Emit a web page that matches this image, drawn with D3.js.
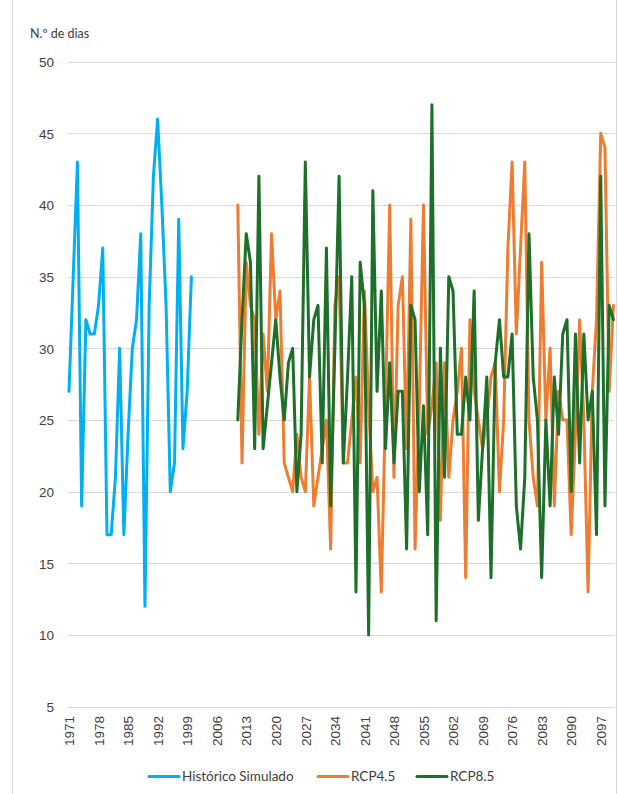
<!DOCTYPE html>
<html>
<head>
<meta charset="utf-8">
<script src="https://cdn.jsdelivr.net/npm/d3@7"></script>
<style>
  html, body { margin: 0; padding: 0; background: #fff; }
  svg { display: block; }
</style>
</head>
<body>
<svg id="chart" width="619" height="794"></svg>
<script>
// ---- data ----
const histStart = 1971;
const histValues = [27,35,43,19,32,31,31,33,37,17,17,21,30,17,24,30,32,38,12,33,42,46,40,33,20,22,39,23,27,35];
const rcpStart = 2011;
const rcp45Values = [
  40,22,36,33,32,24,31,27,38,32,
  34,22,21,20,24,21,20,28,19,21,
  23,25,16,33,35,22,22,25,28,22,
  34,26,20,21,13,26,40,21,33,35,
  23,39,16,26,40,24,26,29,18,29,
  21,25,27,30,14,32,27,25,23,25,
  28,29,20,25,37,43,31,37,43,25,
  21,19,36,25,30,19,27,25,25,17,
  24,32,25,13,27,32,45,44,27,33
];
const rcp85Values = [
  25,32,38,36,23,42,23,26,29,32,
  28,25,29,30,20,24,43,28,32,33,
  22,37,19,30,42,22,28,35,13,36,
  33,10,41,27,34,23,29,22,27,27,
  16,33,32,20,26,17,47,11,30,21,
  35,34,24,24,28,25,34,18,23,28,
  14,29,32,28,28,31,19,16,21,38,
  28,25,14,25,19,28,24,31,32,20,
  31,22,31,25,27,17,42,19,33,32
];
const xTickLabels = ["1971","1978","1985","1992","1999","2006","2013","2020","2027","2034","2041","2048","2055","2062","2069","2076","2083","2090","2097"];
const yTicks = [5,10,15,20,25,30,35,40,45,50];
const seriesNames = ["Histórico Simulado","RCP4.5","RCP8.5"];
const seriesColors = ["#00B0F0","#ED7D31","#1D6F2A"];
const yTitle = "N.º de dias";

// ---- build ----
const svg = d3.select("#chart");
const x = d3.scaleLinear().domain([1971, 2100]).range([69, 613.4]);
const y = d3.scaleLinear().domain([5, 50]).range([706.7, 61.7]);

// chart border
svg.append("rect").attr("x", 12.5).attr("y", -1).attr("width", 604).attr("height", 797)
  .attr("fill", "none").attr("stroke", "#d9d9d9").attr("stroke-width", 1);

// gridlines
svg.append("g").selectAll("line").data(yTicks).join("line")
  .attr("x1", 67.5).attr("x2", 614.5)
  .attr("y1", d => Math.round(y(d)) + 0.5).attr("y2", d => Math.round(y(d)) + 0.5)
  .attr("stroke", "#d9d9d9").attr("stroke-width", 1.2);

// y axis labels
const yAxis = d3.axisLeft(y).tickValues(yTicks).tickSize(0).tickPadding(0);
const gy = svg.append("g").attr("transform", "translate(54,0)").call(yAxis);
gy.select(".domain").remove();
gy.selectAll("text").attr("font-family", "Liberation Sans, Arial, sans-serif")
  .attr("font-size", "13.5px").attr("fill", "#404040").attr("dy", "0.35em");

// x axis labels
const xAxis = d3.axisBottom(x).tickValues(xTickLabels.map(Number)).tickFormat((d, i) => xTickLabels[i]).tickSize(0);
const gx = svg.append("g").attr("transform", "translate(0,707)").call(xAxis);
gx.select(".domain").remove();
gx.selectAll("text")
  .attr("font-family", "Liberation Sans, Arial, sans-serif")
  .attr("font-size", "13.5px").attr("fill", "#404040")
  .attr("text-anchor", "end")
  .attr("transform", "rotate(-90)")
  .attr("x", -9).attr("y", 0).attr("dy", "0.35em");

// y title
svg.append("text").attr("x", 30).attr("y", 38).text(yTitle)
  .attr("font-family", "Lato, 'Open Sans', sans-serif").attr("font-size", "12.5px").attr("fill", "#404040");

// lines
const line = d3.line().x(d => x(d.year)).y(d => y(d.value)).curve(d3.curveLinear);
const toPts = (start, vals) => vals.map((v, i) => ({year: start + i, value: v}));
const series = [toPts(histStart, histValues), toPts(rcpStart, rcp45Values), toPts(rcpStart, rcp85Values)];
series.forEach((pts, i) => {
  svg.append("path").datum(pts).attr("d", line)
    .attr("fill", "none").attr("stroke", seriesColors[i]).attr("stroke-width", 3)
    .attr("stroke-linejoin", "round").attr("stroke-linecap", "round");
});

// legend
const legX = [149, 318, 417];
const lg = svg.append("g");
seriesNames.forEach((name, i) => {
  lg.append("line").attr("x1", legX[i]).attr("x2", legX[i] + 30).attr("y1", 776.5).attr("y2", 776.5)
    .attr("stroke", seriesColors[i]).attr("stroke-width", 3).attr("stroke-linecap", "round");
  lg.append("text").attr("x", legX[i] + 33).attr("y", 776.5).attr("dy", "0.35em").text(name)
    .attr("font-family", "Lato, 'Open Sans', sans-serif").attr("font-size", "13.5px").attr("fill", "#404040");
});
</script>
</body>
</html>
